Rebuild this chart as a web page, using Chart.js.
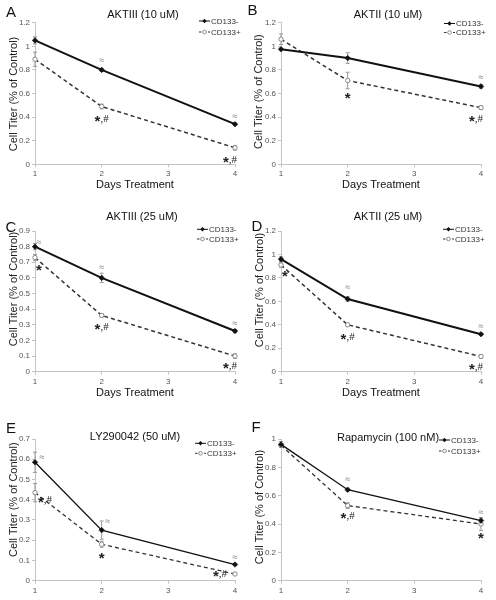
<!DOCTYPE html>
<html><head><meta charset="utf-8">
<script src="https://cdn.jsdelivr.net/npm/chart.js@4"></script>
<style>
html,body{margin:0;padding:0;background:#fff;width:496px;height:600px;overflow:hidden}
canvas{position:absolute}
</style></head><body>
<canvas id="cA" width="246" height="200" style="left:0;top:0"></canvas>
<canvas id="cB" width="250" height="200" style="left:246px;top:0"></canvas>
<canvas id="cC" width="246" height="200" style="left:0;top:200px"></canvas>
<canvas id="cD" width="250" height="200" style="left:246px;top:200px"></canvas>
<canvas id="cE" width="246" height="200" style="left:0;top:400px"></canvas>
<canvas id="cF" width="250" height="200" style="left:246px;top:400px"></canvas>
<script>
// ---------- data ----------
const days = [1, 2, 4];
const xTicks = [1, 2, 3, 4];
const seriesNames = ['CD133-', 'CD133+'];
const yTitle = 'Cell Titer (% of Control)';
const xTitle = 'Days Treatment';

const titleA = 'AKTIII (10 uM)';
const negA = [1.05, 0.80, 0.34];
const posA = [0.89, 0.49, 0.14];
const negErrA = [0.03, 0.01, 0.01];
const posErrA = [0.06, 0.02, 0.02];
const negSigA = ['', '≈', '≈'];
const posSigA = ['', '*,#', '*,#'];
const yTicksA = [0, 0.2, 0.4, 0.6, 0.8, 1, 1.2];

const titleB = 'AKTII (10 uM)';
const negB = [0.975, 0.90, 0.66];
const posB = [1.06, 0.71, 0.48];
const negErrB = [0.01, 0.045, 0.015];
const posErrB = [0.045, 0.07, 0.015];
const negSigB = ['', '', '≈'];
const posSigB = ['', '*', '*,#'];
const yTicksB = [0, 0.2, 0.4, 0.6, 0.8, 1, 1.2];

const titleC = 'AKTIII (25 uM)';
const negC = [0.80, 0.60, 0.26];
const posC = [0.73, 0.36, 0.10];
const negErrC = [0.02, 0.03, 0.01];
const posErrC = [0.02, 0.01, 0.015];
const negSigC = ['≈', '≈', '≈'];
const posSigC = ['*', '*,#', '*,#'];
const yTicksC = [0, 0.1, 0.2, 0.3, 0.4, 0.5, 0.6, 0.7, 0.8, 0.9];

const titleD = 'AKTII (25 uM)';
const negD = [0.96, 0.62, 0.32];
const posD = [0.91, 0.40, 0.13];
const negErrD = [0.02, 0.02, 0.01];
const posErrD = [0.02, 0.01, 0.015];
const negSigD = ['', '≈', '≈'];
const posSigD = ['*', '*,#', '*,#'];
const yTicksD = [0, 0.2, 0.4, 0.6, 0.8, 1, 1.2];

const titleE = 'LY290042 (50 uM)';
const negE = [0.585, 0.25, 0.08];
const posE = [0.435, 0.18, 0.033];
const negErrE = [0.05, 0.045, 0.005];
const posErrE = [0.045, 0.015, 0.005];
const negSigE = ['≈', '≈', '≈'];
const posSigE = ['*,#', '*', '*,#'];
const yTicksE = [0, 0.1, 0.2, 0.3, 0.4, 0.5, 0.6, 0.7];

const titleF = 'Rapamycin (100 nM)';
const negF = [0.962, 0.642, 0.424];
const posF = [0.955, 0.53, 0.40];
const negErrF = [0.02, 0.01, 0.02];
const posErrF = [0.01, 0.02, 0.045];
const negSigF = ['', '≈', '≈'];
const posSigF = ['', '*,#', '*'];
const yTicksF = [0, 0.2, 0.4, 0.6, 0.8, 1];

// ---------- drawing ----------
const FAM = '"Liberation Sans", Arial, sans-serif';
const STAR_FONT = 'bold 15px ' + FAM;
const REST_FONT = '11px "Liberation Serif", "Times New Roman", serif';

function drawSig(ctx, s, x, y) {
  const parts = [];
  for (const ch of s) parts.push(ch);
  ctx.save();
  ctx.textBaseline = 'middle'; ctx.textAlign = 'left'; ctx.fillStyle = '#222';
  const widths = parts.map(ch => { ctx.font = ch === '*' ? STAR_FONT : REST_FONT; return ctx.measureText(ch).width; });
  const total = widths.reduce((a, b) => a + b, 0);
  let cx = x - total / 2;
  parts.forEach((ch, i) => {
    ctx.font = ch === '*' ? STAR_FONT : REST_FONT;
    ctx.fillText(ch, cx, ch === '*' ? y + 3 : y + 0.5);
    cx += widths[i];
  });
  ctx.restore();
}

const panelPlugin = {
  id: 'panelDeco',
  beforeDatasetsDraw(chart) {
    const p = chart.options.plugins.panelDeco;
    const ctx = chart.ctx, xs = chart.scales.x, ys = chart.scales.y;
    ctx.save();
    ctx.strokeStyle = '#9a9a9a'; ctx.lineWidth = 1;
    [p.negErr, p.posErr].forEach((errs, di) => {
      const vals = di === 0 ? p.neg : p.pos;
      errs.forEach((e, i) => {
        if (!e) return;
        const x = xs.getPixelForValue(days[i]);
        const y1 = ys.getPixelForValue(vals[i] + e), y2 = ys.getPixelForValue(vals[i] - e);
        ctx.beginPath();
        ctx.moveTo(x, y1); ctx.lineTo(x, y2);
        ctx.moveTo(x - 2, y1); ctx.lineTo(x + 2, y1);
        ctx.moveTo(x - 2, y2); ctx.lineTo(x + 2, y2);
        ctx.stroke();
      });
    });
    ctx.restore();
  },
  afterDraw(chart) {
    const p = chart.options.plugins.panelDeco;
    const ctx = chart.ctx, xs = chart.scales.x, ys = chart.scales.y;
    ctx.save();
    ctx.fillStyle = '#111'; ctx.textAlign = 'center'; ctx.textBaseline = 'middle';
    ctx.font = '15px ' + FAM;
    ctx.fillText(p.letter, p.letterPos[0], p.letterPos[1]);
    ctx.font = '11px ' + FAM;
    ctx.fillText(p.title, p.titlePos[0], p.titlePos[1]);
    ctx.save();
    ctx.translate(p.yTitlePos[0], p.yTitlePos[1]);
    ctx.rotate(-Math.PI / 2);
    ctx.fillStyle = '#222';
    ctx.fillText(yTitle, 0, 0);
    ctx.restore();
    const lx = p.legend[0];
    chart.data.datasets.forEach((ds, i) => {
      const ly = p.legend[1 + i];
      ctx.save();
      ctx.strokeStyle = ds.borderColor; ctx.lineWidth = 1;
      ctx.setLineDash(ds.borderDash ? [2.5, 2] : []);
      ctx.beginPath(); ctx.moveTo(lx, ly); ctx.lineTo(lx + 11, ly); ctx.stroke();
      ctx.setLineDash([]);
      const cx = lx + 5.5;
      ctx.beginPath();
      if (ds.pointStyle === 'rectRot') {
        ctx.moveTo(cx, ly - 2.2); ctx.lineTo(cx + 2.2, ly); ctx.lineTo(cx, ly + 2.2); ctx.lineTo(cx - 2.2, ly); ctx.closePath();
        ctx.fillStyle = ds.pointBackgroundColor; ctx.fill();
      } else {
        ctx.arc(cx, ly, 1.8, 0, Math.PI * 2);
        ctx.fillStyle = '#fff'; ctx.fill();
        ctx.strokeStyle = ds.pointBorderColor; ctx.stroke();
      }
      ctx.fillStyle = '#333'; ctx.font = '8px ' + FAM;
      ctx.textAlign = 'left'; ctx.textBaseline = 'middle';
      ctx.fillText(ds.label, lx + 12, ly + 0.5);
      ctx.restore();
    });
    [[p.negSig, p.neg, p.negOff], [p.posSig, p.pos, p.posOff]].forEach(([sigs, vals, offs]) => {
      sigs.forEach((s, i) => {
        if (!s) return;
        const o = offs[i] || [0, 0];
        const x = xs.getPixelForValue(days[i]) + o[0];
        const y = ys.getPixelForValue(vals[i]) + o[1];
        if (s === '≈') {
          ctx.textAlign = 'center'; ctx.textBaseline = 'middle';
          ctx.fillStyle = '#777'; ctx.font = '9px ' + FAM;
          ctx.fillText(s, x, y);
        } else {
          drawSig(ctx, s, x, y);
        }
      });
    });
    ctx.restore();
  }
};

function makePanel(id, cfg) {
  const datasets = [
    {
      label: seriesNames[0],
      data: days.map((d, i) => ({x: d, y: cfg.neg[i]})),
      borderColor: '#111', borderWidth: cfg.lw1,
      pointStyle: 'rectRot', pointRadius: 2.8,
      pointBackgroundColor: '#111', pointBorderColor: '#111', pointBorderWidth: 0.5,
      clip: false, tension: 0
    },
    {
      label: seriesNames[1],
      data: days.map((d, i) => ({x: d, y: cfg.pos[i]})),
      borderColor: '#333', borderWidth: cfg.lw2, borderDash: [4, 3],
      pointStyle: 'circle', pointRadius: 2.2,
      pointBackgroundColor: '#fff', pointBorderColor: '#888', pointBorderWidth: 1,
      clip: false, tension: 0
    }
  ];
  const axisCommon = {
    type: 'linear',
    grid: {drawOnChartArea: false, drawTicks: true, tickLength: 3, color: '#c4c4c4'},
    border: {color: '#c4c4c4'}
  };
  new Chart(document.getElementById(id), {
    type: 'line',
    data: {datasets},
    options: {
      responsive: false, animation: false, events: [],
      layout: {padding: {left: 0, top: cfg.top, right: cfg.right, bottom: 0}},
      scales: {
        x: Object.assign({}, axisCommon, {
          min: xTicks[0], max: xTicks[xTicks.length - 1],
          afterBuildTicks: s => { s.ticks = xTicks.map(v => ({value: v})); },
          ticks: {font: {size: 8, family: FAM}, color: '#555', padding: 2, maxRotation: 0,
                  callback: v => String(v)},
          title: {display: cfg.showX, text: xTitle, color: '#111',
                  font: {size: 11, family: FAM}, padding: {top: 0, bottom: cfg.xTitlePad}},
          afterFit: s => { s.height = cfg.xAxisH; }
        }),
        y: Object.assign({}, axisCommon, {
          min: 0, max: cfg.yTicks[cfg.yTicks.length - 1],
          afterBuildTicks: s => { s.ticks = cfg.yTicks.map(v => ({value: v})); },
          ticks: {font: {size: 8, family: FAM}, color: '#555', padding: 2,
                  callback: v => String(+Number(v).toFixed(2))},
          afterFit: s => { s.width = 35; }
        })
      },
      plugins: {
        legend: {display: false}, title: {display: false}, tooltip: {enabled: false},
        panelDeco: cfg
      }
    },
    plugins: [panelPlugin]
  });
}

makePanel('cA', {letter: 'A', letterPos: [11, 12.5], title: titleA, titlePos: [143, 15],
  yTitlePos: [13.7, 94], legend: [199, 21, 32],
  neg: negA, pos: posA, negErr: negErrA, posErr: posErrA, negSig: negSigA, posSig: posSigA,
  negOff: [null, [0, -9], [0, -8]], posOff: [null, [0, 12], [-5, 12]],
  yTicks: yTicksA, top: 22.7, right: 11, xAxisH: 35.7, showX: true, xTitlePad: 8.4, lw1: 2, lw2: 1.5});

makePanel('cB', {letter: 'B', letterPos: [6.5, 11], title: titleB, titlePos: [142, 15],
  yTitlePos: [13.3, 91.7], legend: [198, 23.5, 32.5],
  neg: negB, pos: posB, negErr: negErrB, posErr: posErrB, negSig: negSigB, posSig: posSigB,
  negOff: [null, null, [0, -9]], posOff: [null, [0, 15], [-5, 11]],
  yTicks: yTicksB, top: 22.7, right: 15, xAxisH: 35.7, showX: true, xTitlePad: 8.4, lw1: 2, lw2: 1.5});

makePanel('cC', {letter: 'C', letterPos: [11, 28], title: titleC, titlePos: [142, 16.7],
  yTitlePos: [13.5, 89], legend: [197, 29.3, 39],
  neg: negC, pos: posC, negErr: negErrC, posErr: posErrC, negSig: negSigC, posSig: posSigC,
  negOff: [[4, -4], [0, -10], [0, -8]], posOff: [[4, 10], [0, 11], [-5, 10]],
  yTicks: yTicksC, top: 31, right: 11, xAxisH: 28.3, showX: true, xTitlePad: 0.7, lw1: 2, lw2: 1.5});

makePanel('cD', {letter: 'D', letterPos: [11, 27], title: titleD, titlePos: [142, 16.7],
  yTitlePos: [13.5, 90], legend: [197, 29.3, 39],
  neg: negD, pos: posD, negErr: negErrD, posErr: posErrD, negSig: negSigD, posSig: posSigD,
  negOff: [null, [0, -11], [0, -8]], posOff: [[4, 9], [0, 12], [-5, 10]],
  yTicks: yTicksD, top: 31, right: 15, xAxisH: 28.3, showX: true, xTitlePad: 0.7, lw1: 2, lw2: 1.5});

makePanel('cE', {letter: 'E', letterPos: [11, 29], title: titleE, titlePos: [135, 37.3],
  yTitlePos: [13.5, 99.7], legend: [195, 43.3, 53.3],
  neg: negE, pos: posE, negErr: negErrE, posErr: posErrE, negSig: negSigE, posSig: posSigE,
  negOff: [[7, -5], [6, -9], [0, -7]], posOff: [[10, 7], [0, 12], [-15, 0]],
  yTicks: yTicksE, top: 39, right: 11, xAxisH: 19.3, showX: false, xTitlePad: 0, lw1: 1.3, lw2: 1.3});

makePanel('cF', {letter: 'F', letterPos: [10, 28], title: titleF, titlePos: [142, 37.7],
  yTitlePos: [13.5, 107], legend: [193, 40, 51],
  neg: negF, pos: posF, negErr: negErrF, posErr: posErrF, negSig: negSigF, posSig: posSigF,
  negOff: [null, [0, -10], [0, -8]], posOff: [null, [0, 10], [0, 12]],
  yTicks: yTicksF, top: 39, right: 15, xAxisH: 19.3, showX: false, xTitlePad: 0, lw1: 1.3, lw2: 1.3});
</script>
</body></html>
